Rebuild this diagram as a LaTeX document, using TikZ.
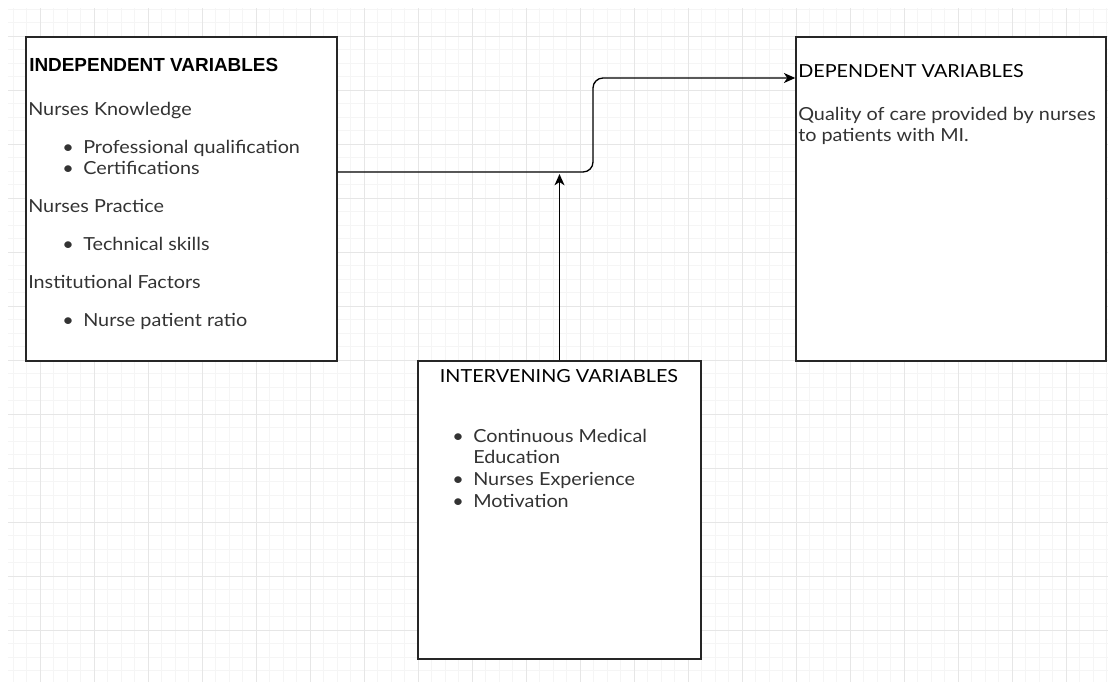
\documentclass[tikz,border=0pt]{standalone}
\usepackage{fontspec}
\setmainfont{Lato}[FakeStretch=1.1]
\newfontfamily\headfont{Liberation Sans}
\usetikzlibrary{arrows.meta}

\definecolor{gridminor}{HTML}{F5F5F5}
\definecolor{gridmajor}{HTML}{E6E6E6}
\definecolor{txt}{HTML}{333333}

\newcommand\bodysize{\fontsize{13.5pt}{16pt}\selectfont}
\newcommand\bul{\makebox[15.75pt][l]{\textbullet}}

\tikzset{
  varbox/.style={draw=black!85, line width=1.1pt, fill=white, inner sep=0pt},
  flow/.style={-{Stealth[length=8.5pt, width=7.5pt, inset=2.5pt]}, line width=1pt},
  txtline/.style={anchor=base west, inner sep=0pt, text=txt, font=\bodysize},
}

\begin{document}
\begin{tikzpicture}[x=0.75pt, y=-0.75pt]
        \useasboundingbox (0,0) rectangle (1108,682);
        % background grid
        \fill[white] (0,0) rectangle (1108,682);
        \foreach \gx in {13,26.5,...,1108} \draw[gridminor, line width=0.75pt] (\gx,8) -- (\gx,682);
        \foreach \gy in {9,22.5,...,682} \draw[gridminor, line width=0.75pt] (8,\gy) -- (1108,\gy);
        \foreach \gx in {40,94,...,1108} \draw[gridmajor, line width=0.75pt] (\gx,8) -- (\gx,682);
        \foreach \gy in {36,90,...,682} \draw[gridmajor, line width=0.75pt] (8,\gy) -- (1108,\gy);

        % the three boxes
        \node (indep) [varbox, minimum width=233.25pt, minimum height=243pt] at (181.5,199) {};
        \node (dep) [varbox, minimum width=232.5pt, minimum height=243pt] at (951,199) {};
        \node (interv) [varbox, minimum width=212.25pt, minimum height=223.5pt] at (559.5,510) {};

        % connectors
        \coordinate (jn) at (593,172);
        \coordinate (up) at (593,78);
        \draw [flow, rounded corners=7.5pt] (indep.east |- jn) -- (jn) -- (up) -- (dep.west |- up);
        \draw [flow, shorten >=1.5pt] (interv.north) -- (interv.north |- jn);

        % independent variables
        \node (indhead) [txtline, text=black, font=\headfont\bfseries\fontsize{14.2pt}{16pt}\selectfont] at (29,71) {INDEPENDENT VARIABLES};
        \node (know) [txtline] at (28,115) {Nurses Knowledge};
        \node (qual) [txtline] at (62,153) {\bul Professional qualification};
        \node (cert) [txtline] at (62,174) {\bul Certifications};
        \node (prac) [txtline] at (28,212) {Nurses Practice};
        \node (tech) [txtline] at (62,250) {\bul Technical skills};
        \node (inst) [txtline] at (28,288) {Institutional Factors};
        \node (ratio) [txtline] at (62,326) {\bul Nurse patient ratio};

        % dependent variables
        \node (dephead) [txtline, text=black] at (798,77) {DEPENDENT VARIABLES};
        \node (care1) [txtline] at (798,120) {Quality of care provided by nurses};
        \node (care2) [txtline] at (798,141) {to patients with MI.};

        % intervening variables
        \node (inthead) [txtline, anchor=base, text=black] at (559,382) {INTERVENING VARIABLES};
        \node (cme1) [txtline] at (452,442) {\bul Continuous Medical};
        \node (cme2) [txtline] at (473,463) {Education};
        \node (expe) [txtline] at (452,485) {\bul Nurses Experience};
        \node (moti) [txtline] at (452,507) {\bul Motivation};
\end{tikzpicture}
\end{document}
